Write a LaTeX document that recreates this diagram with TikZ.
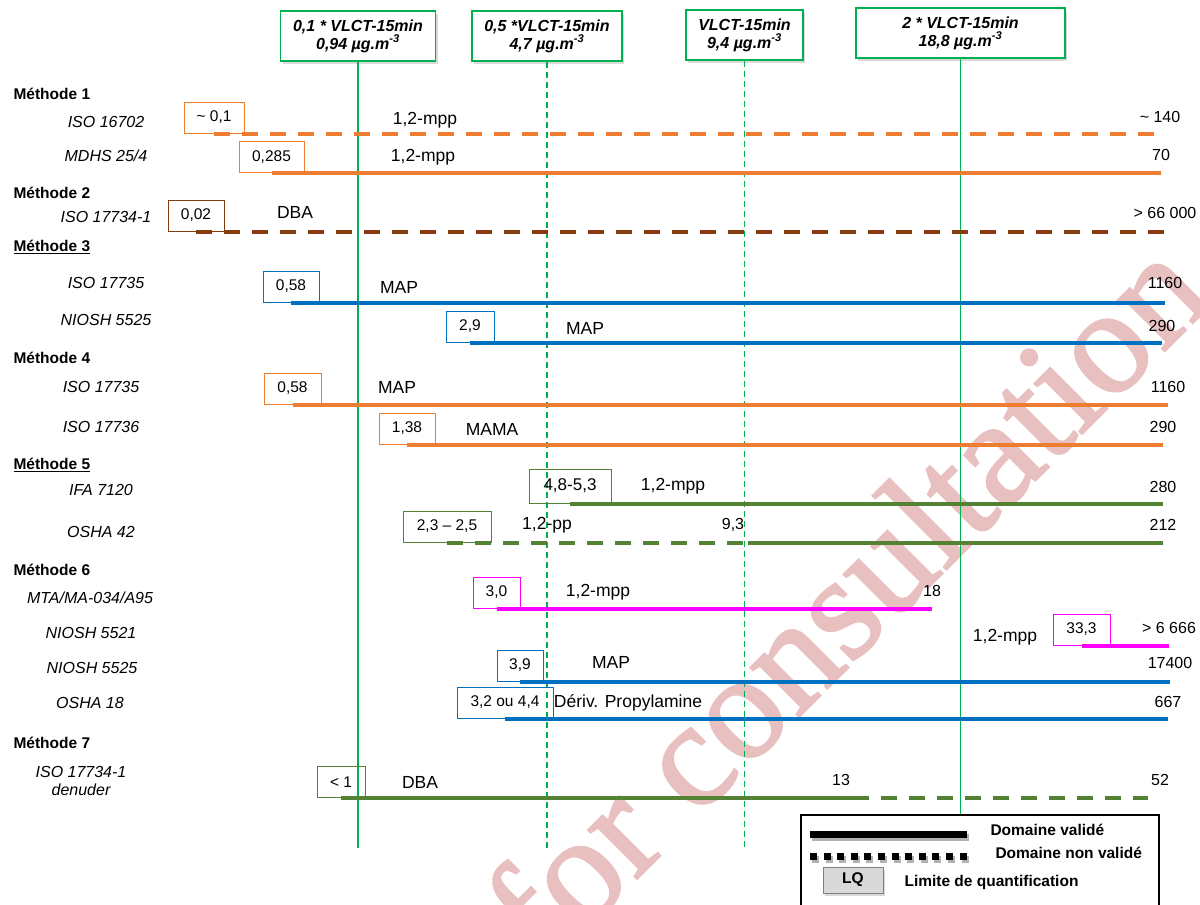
\documentclass[tikz,border=0pt]{standalone}
\usepackage{fontspec}
\setmainfont{Liberation Sans}
\newfontfamily\wmfont{Liberation Serif}[FakeBold=1.5]
\usetikzlibrary{shadows}
\definecolor{vgreen}{RGB}{0,176,80}
\definecolor{morange}{RGB}{237,125,49}
\definecolor{mbrown}{RGB}{132,60,12}
\definecolor{mblue}{RGB}{0,112,192}
\definecolor{mgreen}{RGB}{84,130,53}
\definecolor{mmagenta}{RGB}{255,0,255}
\definecolor{wmpink}{RGB}{232,192,192}
\begin{document}
\begin{tikzpicture}[x=1pt,y=-1pt,
  vlct/.style={draw=vgreen,line width=1.5pt,fill=white,minimum height=50pt,align=center,
    font=\fontsize{16}{18}\selectfont\bfseries\itshape,
    drop shadow={shadow xshift=2pt,shadow yshift=-3pt,opacity=0.3}},
  lqbox/.style={draw=#1,line width=1pt,minimum height=31pt,inner sep=0pt,font=\fontsize{15.5}{18}\selectfont},
  meth/.style={anchor=west,font=\fontsize{15.5}{18}\selectfont\bfseries},
  norm/.style={align=center,font=\fontsize{16}{18}\selectfont\itshape},
  subst/.style={font=\fontsize{17.5}{20}\selectfont},
  val/.style={font=\fontsize{16}{18}\selectfont},
  valid/.style={draw=#1,line width=4pt},
  nonvalid/.style={draw=#1,line width=4pt,dash pattern=on 16pt off 12pt},
  limit/.style={draw=vgreen,line width=1.5pt},
  halflimit/.style={draw=vgreen,line width=1.5pt,dash pattern=on 6pt off 4pt},
]
\useasboundingbox (0,0) rectangle (1200,905);

% watermark
\begin{scope}
\clip (0,0) rectangle (1200,905);
\node[rotate=45,text=wmpink,font=\wmfont\fontsize{150}{150}\selectfont] (wm) at (844,598) {for consultation};
\end{scope}

% VLCT limits
\node[vlct,minimum width=155pt] (v1) at (358,36) {0,1 * VLCT-15min\\0,94 µg.m\textsuperscript{-3}};
\node[vlct,minimum width=150pt] (v2) at (547,36) {0,5 *VLCT-15min\\4,7 µg.m\textsuperscript{-3}};
\node[vlct,minimum width=117pt] (v3) at (744.5,35) {VLCT-15min\\9,4 µg.m\textsuperscript{-3}};
\node[vlct,minimum width=209pt] (v4) at (960.5,33) {2 * VLCT-15min\\18,8 µg.m\textsuperscript{-3}};
\node[draw,line width=1.5pt,minimum width=358pt,minimum height=95pt,anchor=north west,inner sep=0pt] (legend) at (800,814) {};
\coordinate (bot) at (0,848);
\draw[limit] (v1.south) -- (v1.south |- bot);
\draw[halflimit] (v2.south) -- (v2.south |- bot);
\draw[halflimit] (v3.south) -- (v3.south |- bot);
\draw[limit] (v4.south) -- (v4.south |- legend.north);

% methods and standards
\path
(10,94) node [meth] (m1) {Méthode 1}
(10,193) node [meth] (m2) {Méthode 2}
(10,247) node [meth] (m3) {\underline{Méthode 3}}
(10,358) node [meth] (m4) {Méthode 4}
(10,465) node [meth] (m5) {\underline{Méthode 5}}
(10,570) node [meth] (m6) {Méthode 6}
(10,743) node [meth] (m7) {Méthode 7}
(106,122) node [norm] (n1) {ISO 16702}
(106,156) node [norm] (n2) {MDHS 25/4}
(106,217) node [norm] (n3) {ISO 17734-1}
(106,283) node [norm] (n4) {ISO 17735}
(106,320) node [norm] (n5) {NIOSH 5525}
(101,387) node [norm] (n6) {ISO 17735}
(101,427) node [norm] (n7) {ISO 17736}
(101,490) node [norm] (n8) {IFA 7120}
(101,532) node [norm] (n9) {OSHA 42}
(90,598) node [norm] (n10) {MTA/MA-034/A95}
(91,633) node [norm] (n11) {NIOSH 5521}
(92,668) node [norm] (n12) {NIOSH 5525}
(90,703) node [norm] (n13) {OSHA 18}
(81,781) node [norm] (n14) {ISO 17734-1\\denuder}
;

% limits of quantification
\path
(214,117.5) node [lqbox=morange,minimum width=60pt] (q1) {\textasciitilde\ 0,1}
(271.5,157) node [lqbox=morange,minimum width=65pt] (q2) {0,285}
(196,215.5) node [lqbox=mbrown,minimum width=56pt] (q3) {0,02}
(291,286.5) node [lqbox=mblue,minimum width=56pt] (q4) {0,58}
(470,326.5) node [lqbox=mblue,minimum width=48pt] (q5) {2,9}
(292.5,388.5) node [lqbox=morange,minimum width=57pt] (q6) {0,58}
(407,428.5) node [lqbox=morange,minimum width=56pt] (q7) {1,38}
(570,486) node [lqbox=mgreen,minimum width=82pt,minimum height=34pt,font=\fontsize{17}{18}\selectfont] (q8) {4,8-5,3}
(447,526.5) node [lqbox=mgreen,minimum width=88pt] (q9) {2,3 – 2,5}
(496.5,592.5) node [lqbox=mmagenta,minimum width=47pt] (q10) {3,0}
(1081.5,629.5) node [lqbox=mmagenta,minimum width=57pt] (q11) {33,3}
(520,665.5) node [lqbox=mblue,minimum width=46pt] (q12) {3,9}
(505,702.5) node [lqbox=mblue,minimum width=96pt] (q13) {3,2 ou 4,4}
(341,782) node [lqbox=mgreen,minimum width=48pt] (q14) {< 1}
;

% substances
\path
(425,120) node [subst] (s1) {1,2-mpp}
(423,157) node [subst] (s2) {1,2-mpp}
(295,212) node [subst] (s3) {DBA}
(399,287) node [subst] (s4) {MAP}
(585,328) node [subst] (s5) {MAP}
(397,387) node [subst] (s6) {MAP}
(492,429) node [subst] (s7) {MAMA}
(673,486) node [subst] (s8) {1,2-mpp}
(547,525) node [subst] (s9) {1,2-pp}
(598,592) node [subst] (s10) {1,2-mpp}
(1005,637) node [subst] (s11) {1,2-mpp}
(611,662) node [subst] (s12) {MAP}
(628,703) node [subst] (s13) {Dériv. Propylamine}
(420,782) node [subst] (s14) {DBA}
;

% upper values
\path
(1160,117) node [val] (r1) {\textasciitilde\ 140}
(1161,155) node [val] (r2) {70}
(1165,213) node [val] (r3) {> 66 000}
(1165,283) node [val] (r4) {1160}
(1162,326) node [val] (r5) {290}
(1168,387) node [val] (r6) {1160}
(1163,427) node [val] (r7) {290}
(1163,487) node [val] (r8) {280}
(733,525) node [val] (t9) {9,3}
(1163,525) node [val] (r9) {212}
(932,591) node [val] (r10) {18}
(1169,628) node [val] (r11) {> 6 666}
(1170,663) node [val] (r12) {17400}
(1168,702) node [val] (r13) {667}
(841,780) node [val] (t14) {13}
(1160,780) node [val] (r14) {52}
;

% ranges
\draw[nonvalid=morange] (q1.south) -- (q1.south -| r1);
\draw[valid=morange] (q2.south) -- (q2.south -| r2);
\draw[nonvalid=mbrown] (q3.south) -- (q3.south -| r3);
\draw[valid=mblue] (q4.south) -- (q4.south -| r4);
\draw[valid=mblue] (q5.south) -- (q5.south -| r5);
\draw[valid=morange] (q6.south) -- (q6.south -| r6);
\draw[valid=morange] (q7.south) -- (q7.south -| r7);
\draw[valid=mgreen] (q8.south) -- (q8.south -| r8);
\draw[nonvalid=mgreen] (q9.south) -- (q9.south -| t9.east);
\draw[valid=mgreen] (q9.south -| t9.east) -- (q9.south -| r9);
\draw[valid=mmagenta] (q10.south) -- (q10.south -| r10);
\draw[valid=mmagenta] (q11.south) -- (q11.south -| r11);
\draw[valid=mblue] (q12.south) -- (q12.south -| r12);
\draw[valid=mblue] (q13.south) -- (q13.south -| r13);
\draw[valid=mgreen] (q14.south) -- (q14.south -| t14.east);
\draw[nonvalid=mgreen] (q14.south -| t14.east) -- (q14.south -| r14.west);

% legend
\coordinate (la) at (810,834);
\coordinate (lb) at (967,834);
\coordinate (lc) at (810,856);
\coordinate (ld) at (967,856);
\draw[line width=7pt,black!30] ([shift={(2,3)}]la) -- ([shift={(2,3)}]lb);
\draw[line width=7pt] (la) -- (lb);
\draw[line width=7pt,black!30,dash pattern=on 7pt off 6.6pt] ([shift={(2,3)}]lc) -- ([shift={(2,3)}]ld);
\draw[line width=7pt,dash pattern=on 7pt off 6.6pt] (lc) -- (ld);
\path
(987,830) node [anchor=west,font=\fontsize{15.5}{18}\selectfont\bfseries] (k1) {Domaine validé}
(992,853) node [anchor=west,font=\fontsize{15.5}{18}\selectfont\bfseries] (k2) {Domaine non validé}
(853,880) node [draw=gray,fill=gray!30,minimum width=60pt,minimum height=26pt,inner sep=0pt,
  font=\fontsize{15.5}{18}\selectfont\bfseries,drop shadow={shadow xshift=2pt,shadow yshift=-3pt,opacity=0.3}] (lq) {LQ}
(901,882) node [anchor=west,font=\fontsize{15.5}{18}\selectfont\bfseries] (k3) {Limite de quantification}
;
\end{tikzpicture}
\end{document}
